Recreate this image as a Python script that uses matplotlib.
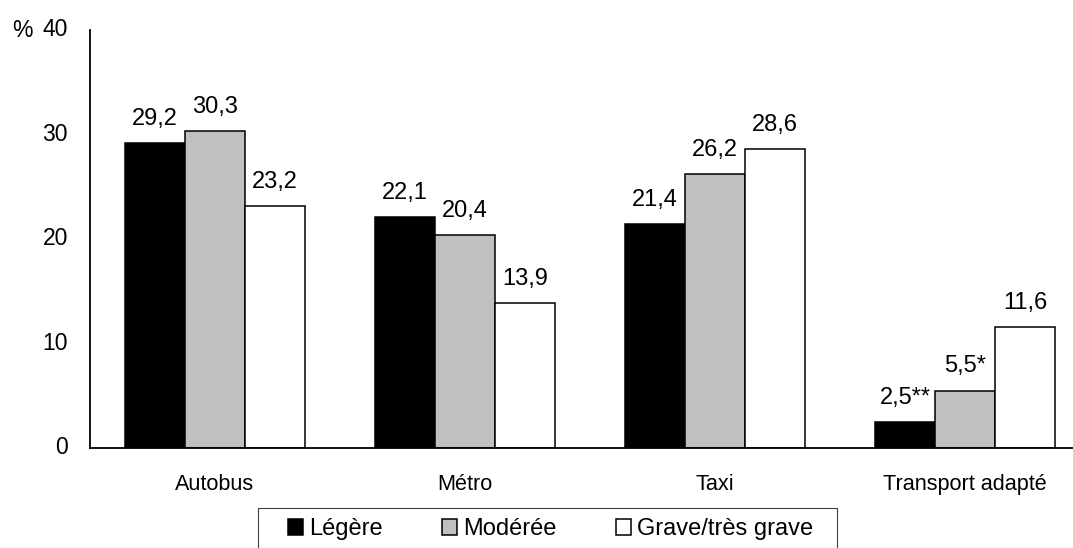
import numpy as np
import matplotlib
matplotlib.use("Agg")
import matplotlib.pyplot as plt
import matplotlib.transforms as mtransforms
from matplotlib.patches import Rectangle

plt.rcParams["font.family"] = ["Liberation Sans", "DejaVu Sans"]

# categories and percentages per severity level
categories = ["Autobus", "Métro", "Taxi", "Transport adapté"]
legere = [29.2, 22.1, 21.4, 2.5]
moderee = [30.3, 20.4, 26.2, 5.5]
grave = [23.2, 13.9, 28.6, 11.6]
# quality flags printed after some values
legere_flags = ["", "", "", "**"]
moderee_flags = ["", "", "", "*"]
grave_flags = ["", "", "", ""]

series = [
    ("Légère", legere, legere_flags, "black"),
    ("Modérée", moderee, moderee_flags, "#c0c0c0"),
    ("Grave/très grave", grave, grave_flags, "white"),
]

W, H = 1073, 548
fig = plt.figure(figsize=(W / 100, H / 100), dpi=100)
ax = fig.add_axes([90 / W, 100 / H, 1000 / W, 418 / H])

x = np.arange(len(categories))
width = 0.24
for i, (name, vals, flags, color) in enumerate(series):
    pos = x + (i - 1) * width
    ax.bar(pos, vals, width, color=color, edgecolor="black", linewidth=1.1, label=name)
    for px, v, f in zip(pos, vals, flags):
        txt = f"{v:.1f}".replace(".", ",") + f
        ax.annotate(txt, (px, v), xytext=(0, 13), textcoords="offset points",
                    ha="center", va="baseline", fontsize=17)

ax.set_xlim(-0.5, len(categories) - 0.5)
ax.set_ylim(0, 40)
ax.set_yticks([0, 10, 20, 30, 40])
ax.set_xticks(x)
ax.set_xticklabels(categories, fontsize=15.6)
ax.tick_params(axis="y", length=0, pad=16, labelsize=16.5)
ax.tick_params(axis="x", length=0, pad=19)
# nudge the y labels up a little
nudge = mtransforms.ScaledTranslation(0, 2 / 72, fig.dpi_scale_trans)
for lbl in ax.get_yticklabels():
    lbl.set_transform(lbl.get_transform() + nudge)
for side in ["top", "right"]:
    ax.spines[side].set_visible(False)
ax.spines["left"].set_linewidth(1.3)
ax.spines["bottom"].set_linewidth(1.3)

fig.text(12 / W, 1 - 37 / H, "%", fontsize=16.5, ha="left", va="baseline")

# legend without its own frame, boxed by a rectangle running off the bottom edge
leg = fig.legend(loc="center left", bbox_to_anchor=(288 / W, 1 - 529 / H),
                 ncol=3, fontsize=17, frameon=False,
                 handlelength=0.65, handleheight=0.65, handletextpad=0.25,
                 columnspacing=2.5, borderaxespad=0, borderpad=0)
fig.patches.append(Rectangle((258 / W, -0.05), (837 - 258) / W, (0.05 + 1 - 508 / H),
                             transform=fig.transFigure, fill=False,
                             edgecolor="#404040", linewidth=0.8))

fig.savefig("out.png", dpi=100)
